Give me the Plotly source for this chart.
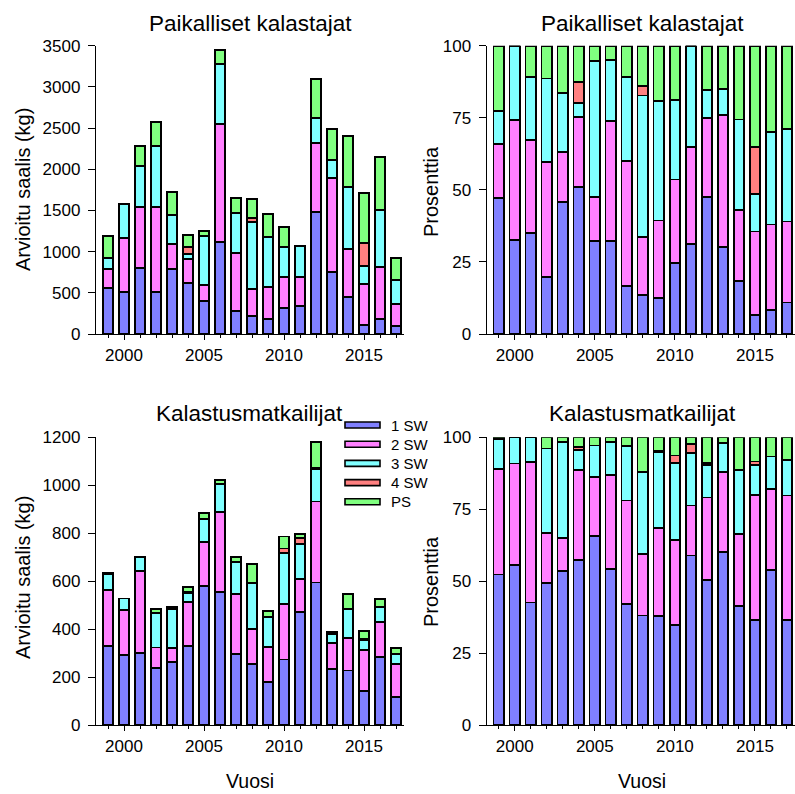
import plotly.graph_objects as go

years = list(range(1999, 2018))
series_names = ["1 SW", "2 SW", "3 SW", "4 SW", "PS"]
colors = ["#8080FF", "#FF80FF", "#80FFFF", "#FF8080", "#80FF80"]

# Paikalliset kalastajat (kg)
local_1sw = [562, 514, 797, 506, 793, 615, 405, 1113, 275, 223, 182, 320, 336, 1477, 749, 445, 113, 182, 101]
local_2sw = [223, 656, 741, 1032, 296, 292, 190, 1441, 712, 327, 393, 376, 360, 842, 1141, 591, 494, 635, 259]
local_3sw = [134, 408, 498, 744, 356, 60, 595, 728, 482, 806, 607, 360, 376, 303, 223, 753, 223, 693, 296]
local_4sw = [0, 0, 0, 0, 0, 85, 0, 0, 0, 56, 0, 0, 0, 0, 0, 0, 279, 0, 0]
local_ps = [271, 0, 246, 292, 283, 153, 65, 170, 178, 227, 279, 243, 0, 478, 372, 615, 599, 643, 267]

# Kalastusmatkailijat (kg)
tour_1sw = [331, 293, 299, 239, 263, 331, 581, 555, 296, 256, 179, 273, 470, 594, 234, 227, 143, 284, 117]
tour_2sw = [232, 187, 343, 84, 57, 181, 182, 333, 252, 144, 146, 233, 139, 338, 108, 137, 171, 147, 139]
tour_3sw = [67, 48, 60, 143, 164, 40, 96, 116, 133, 191, 125, 210, 145, 134, 39, 121, 41, 60, 40]
tour_4sw = [0, 0, 0, 0, 0, 5, 0, 0, 0, 0, 2, 20, 25, 7, 0, 0, 5, 0, 0]
tour_ps = [3, 0, 0, 19, 8, 20, 25, 18, 21, 81, 22, 50, 19, 106, 8, 63, 33, 35, 25]

titles = ["Paikalliset kalastajat", "Kalastusmatkailijat"]
ytitle_abs = "Arvioitu saalis (kg)"
ytitle_pct = "Prosenttia"
xtitle = "Vuosi"

local = [local_1sw, local_2sw, local_3sw, local_4sw, local_ps]
tour = [tour_1sw, tour_2sw, tour_3sw, tour_4sw, tour_ps]


def pct(groups):
    totals = [sum(g[i] for g in groups) for i in range(len(years))]
    return [[100.0 * g[i] / totals[i] for i in range(len(years))] for g in groups]


W, H = 795, 794
FONT = "Liberation Sans, Arial, sans-serif"


def px_x(p):
    return p / W


def px_y(p):
    return 1 - p / H


fig = go.Figure()

panels = [
    (local, "x", "y"),
    (pct(local), "x2", "y2"),
    (tour, "x3", "y3"),
    (pct(tour), "x4", "y4"),
]

for data, xa, ya in panels:
    for name, col, vals in zip(series_names, colors, data):
        fig.add_trace(go.Bar(
            x=years, y=vals, name=name, xaxis=xa, yaxis=ya,
            marker=dict(color=col, line=dict(color="black", width=1.8)),
            width=0.66, showlegend=False,
        ))

fig.update_layout(barmode="stack")

left_dom = [px_x(96), px_x(404)]
right_dom = [px_x(486.7), 1.0]
top_dom = [px_y(334), px_y(45.7)]
bot_dom = [px_y(725), px_y(437.3)]

xcommon = dict(
    range=[1998.25, 2017.5], showgrid=False, zeroline=False, automargin=False,
    showline=True, linecolor="black", linewidth=1.3,
    ticks="outside", ticklen=5, tickwidth=1.2, tickcolor="black",
    tick0=2000, dtick=5,
    minor=dict(ticks="outside", dtick=1, ticklen=3, tickwidth=1.2, tickcolor="black", showgrid=False),
    tickfont=dict(family=FONT, size=17, color="black"),
)
ycommon = dict(
    showgrid=False, zeroline=False, showline=True, linecolor="black", linewidth=1.3,
    automargin=False,
    ticks="outside", ticklen=7, tickwidth=1.2, tickcolor="black",
    tickfont=dict(family=FONT, size=17, color="black"),
    ticklabelstandoff=4,
)

fig.update_layout(
    xaxis=dict(domain=left_dom, anchor="y", **xcommon),
    xaxis2=dict(domain=right_dom, anchor="y2", **xcommon),
    xaxis3=dict(domain=left_dom, anchor="y3", **xcommon),
    xaxis4=dict(domain=right_dom, anchor="y4", **xcommon),
    yaxis=dict(domain=top_dom, anchor="x", range=[0, 3500], dtick=500, **ycommon),
    yaxis2=dict(domain=top_dom, anchor="x2", range=[0, 100], dtick=25, **ycommon),
    yaxis3=dict(domain=bot_dom, anchor="x3", range=[0, 1200], dtick=200, **ycommon),
    yaxis4=dict(domain=bot_dom, anchor="x4", range=[0, 100], dtick=25, **ycommon),
)

annotations = []
for cx, cy, txt in [(250, 23, titles[0]), (642, 23, titles[0]),
                    (249, 413, titles[1]), (642, 413, titles[1])]:
    annotations.append(dict(x=px_x(cx), y=px_y(cy), xref="paper", yref="paper",
                            text=txt, showarrow=False, xanchor="center", yanchor="middle",
                            font=dict(family=FONT, size=22.5, color="black")))
for cx, cy, txt in [(23, 190, ytitle_abs), (431, 192, ytitle_pct),
                    (23, 578, ytitle_abs), (431, 582, ytitle_pct)]:
    annotations.append(dict(x=px_x(cx), y=px_y(cy), xref="paper", yref="paper",
                            text=txt, showarrow=False, textangle=-90,
                            xanchor="center", yanchor="middle",
                            font=dict(family=FONT, size=20, color="black")))
for cx in (250, 642):
    annotations.append(dict(x=px_x(cx), y=px_y(793), xref="paper", yref="paper",
                            text=xtitle, showarrow=False, xanchor="center", yanchor="bottom",
                            borderpad=0,
                            font=dict(family=FONT, size=19.5, color="black")))

# legend (keys + labels)
shapes = []
leg_x0, leg_x1, leg_y0, leg_step = 345, 380, 425, 19.2
for i, (name, col) in enumerate(zip(series_names, colors)):
    cy = leg_y0 + i * leg_step
    shapes.append(dict(type="rect", xref="paper", yref="paper",
                       x0=px_x(leg_x0), x1=px_x(leg_x1), y0=px_y(cy + 3), y1=px_y(cy - 3),
                       fillcolor=col, line=dict(color="black", width=1.6)))
    annotations.append(dict(x=px_x(389), y=px_y(cy), xref="paper", yref="paper",
                            text=name, showarrow=False, xanchor="left", yanchor="middle",
                            font=dict(family=FONT, size=15, color="black")))

fig.update_layout(
    width=W, height=H,
    margin=dict(l=0, r=0, t=0, b=0, pad=0, autoexpand=False),
    paper_bgcolor="white", plot_bgcolor="white",
    annotations=annotations, shapes=shapes,
    showlegend=False, bargap=0.34,
)

fig.write_html(
    "out.html",
    config={"displayModeBar": False},
    post_script="document.body.style.margin='0px';document.body.style.overflow='hidden';",
)
